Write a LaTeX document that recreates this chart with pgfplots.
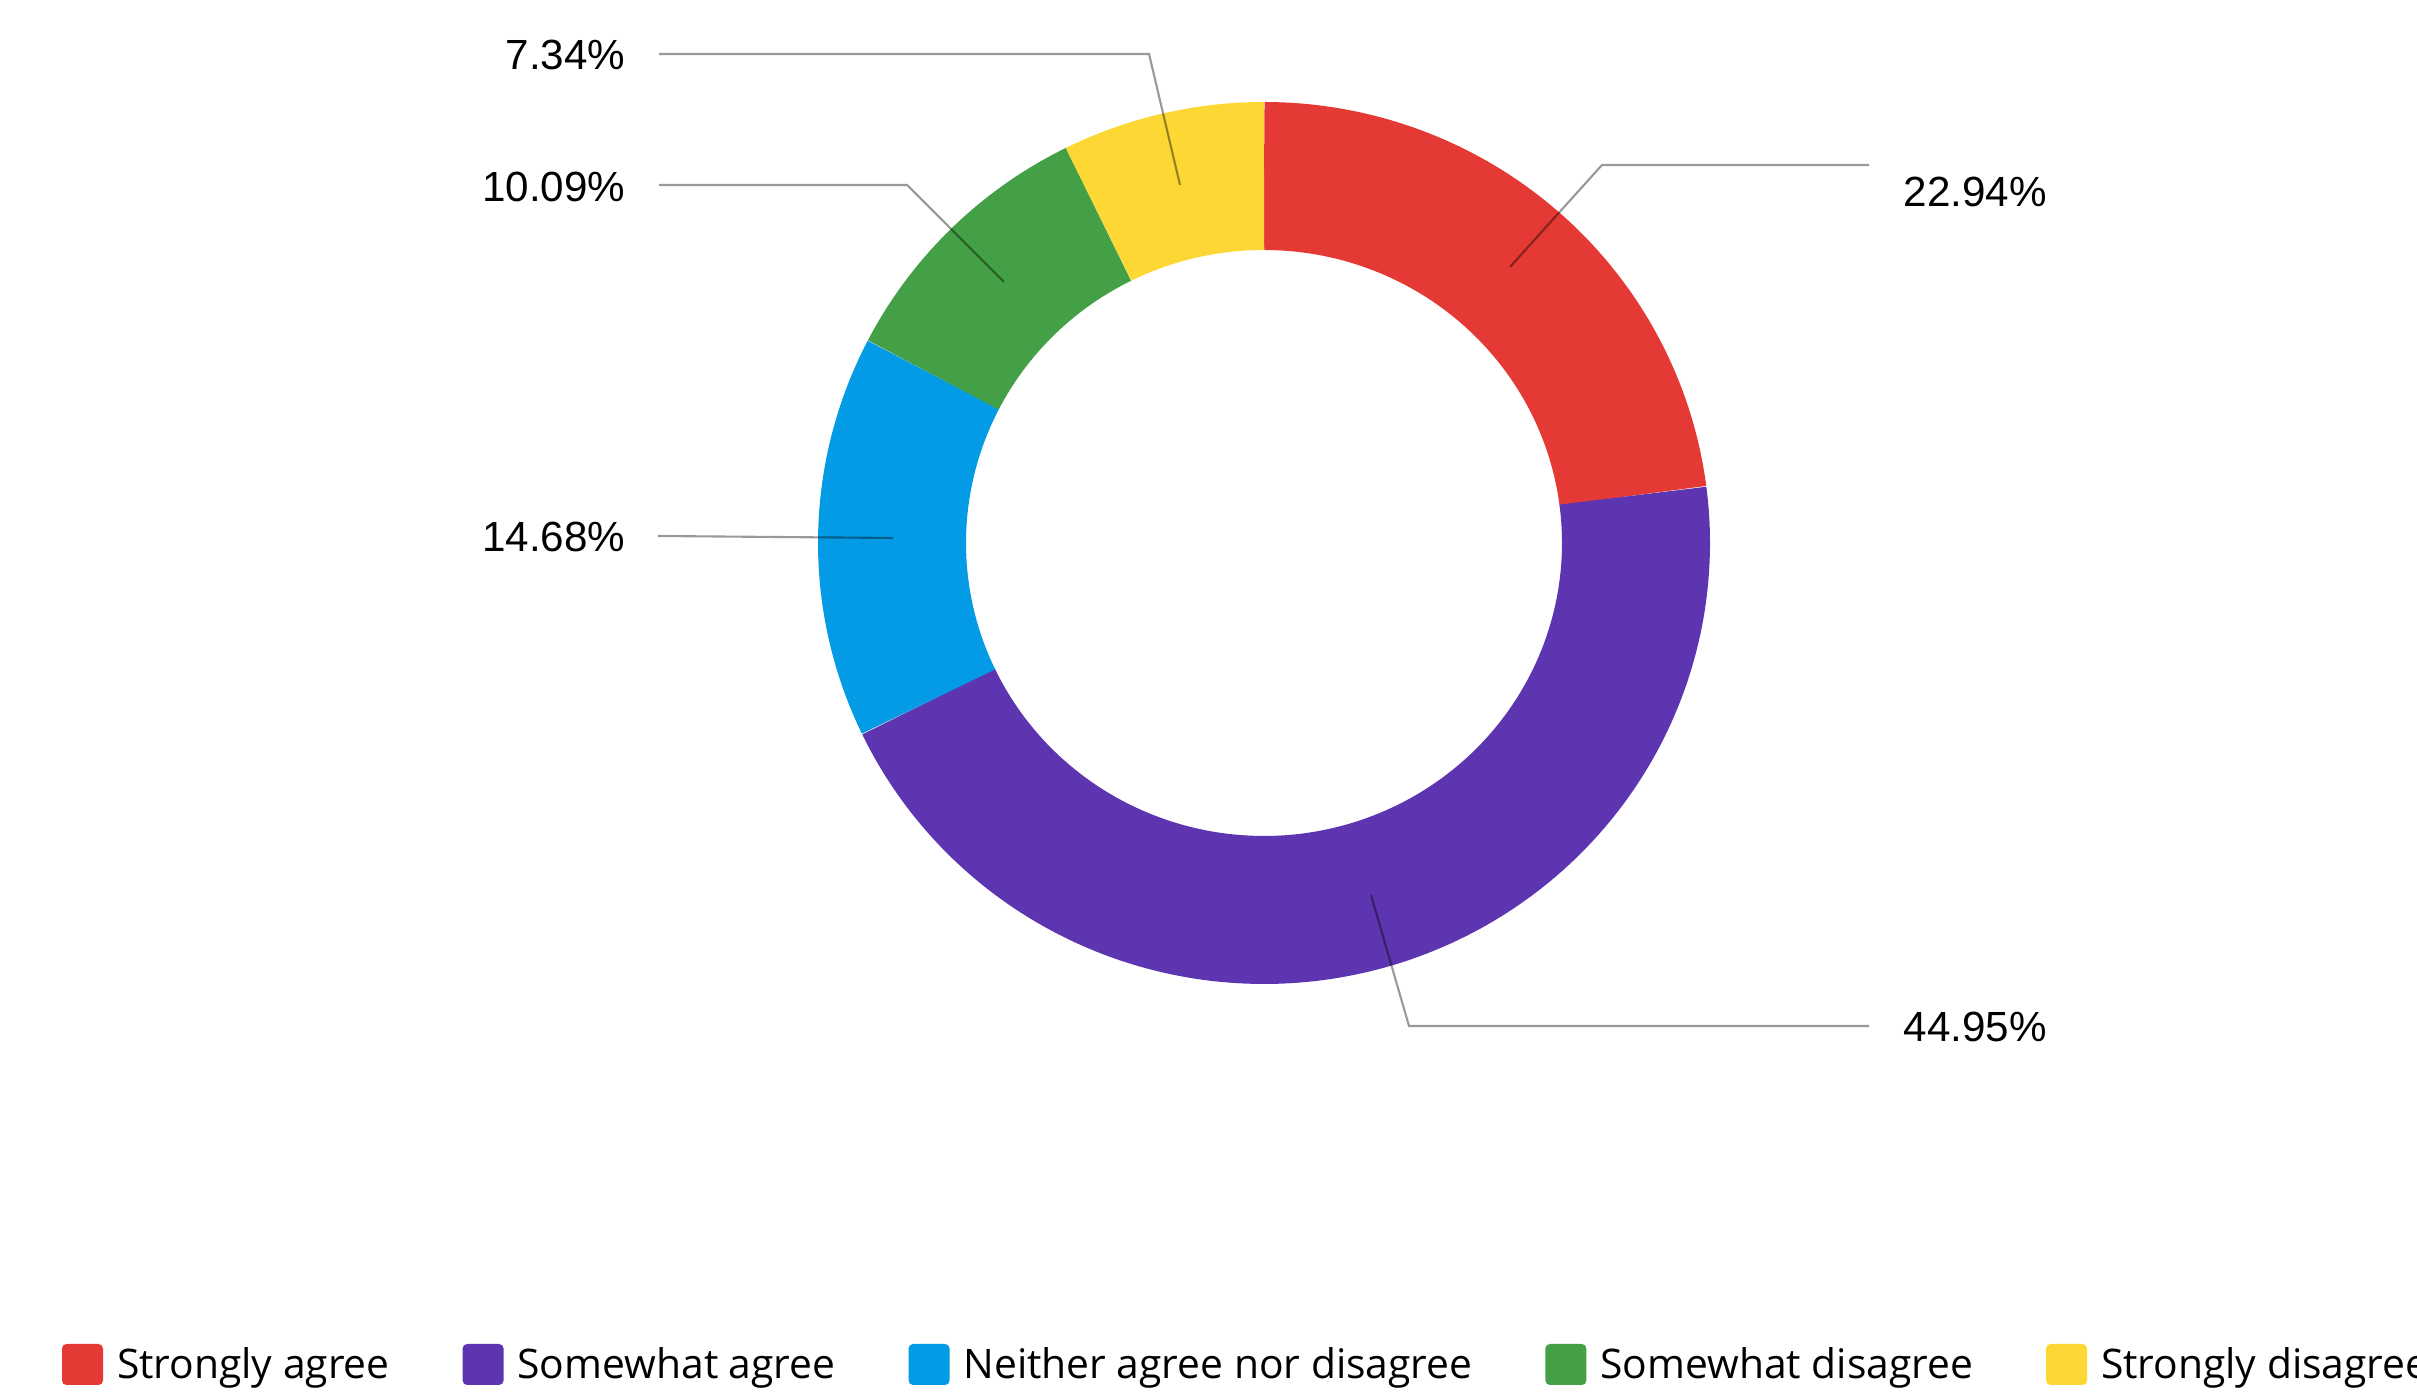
\documentclass[border=0pt]{standalone}
\usepackage{fontspec}
\setmainfont{Liberation Sans}
\newfontfamily\legfont{Open Sans}
\usepackage{pgfplots}
\pgfplotsset{compat=1.18}
\definecolor{cRed}{HTML}{E53935}
\definecolor{cPurple}{HTML}{5E35B1}
\definecolor{cBlue}{HTML}{039BE5}
\definecolor{cGreen}{HTML}{43A047}
\definecolor{cYellow}{HTML}{FDD835}
\tikzset{lbl/.style={inner sep=0pt, font=\fontsize{12}{14}\selectfont}}
% data (percent)
\def\vA{22.94}\def\vB{44.95}\def\vC{14.68}\def\vD{10.09}\def\vE{7.34}
\pgfmathsetmacro{\aA}{90}
\pgfmathsetmacro{\aB}{\aA-3.6*\vA}
\pgfmathsetmacro{\aC}{\aB-3.6*\vB}
\pgfmathsetmacro{\aD}{\aC-3.6*\vC}
\pgfmathsetmacro{\aE}{\aD-3.6*\vD}
\pgfmathsetmacro{\aF}{\aE-3.6*\vE}
\begin{document}
\begin{tikzpicture}
\begin{axis}[at={(0,0)}, anchor=south west, scale only axis,
  width=241.7mm, height=139.2mm,
  xmin=0, xmax=2417, ymin=-1392, ymax=0,
  hide axis, clip=false,
  legend columns=5,
  legend style={at={(axis cs:62,-1364.5)}, anchor=west, draw=none, fill=none,
    inner sep=0pt, outer sep=0pt, nodes={inner sep=0pt, outer sep=0pt},
    font=\legfont\fontsize{11.6}{14}\selectfont,
    /tikz/every odd column/.append style={column sep=1.4mm},
    /tikz/every even column/.append style={column sep=7.3mm}},
  legend image code/.code={\fill[#1, draw=none, line width=0pt, rounded corners=0.45mm] (0mm,-1.95mm) rectangle (4.1mm,2.15mm);},
  ring/.style={line cap=butt, line join=round, line width=14.8mm, samples=150, no marks},
  leader/.style={black, opacity=0.4, line width=0.6pt, no marks, forget plot},
]
\addplot[ring, cRed, domain=\aB:\aA] ({1264+372*cos(x)},{-543+367*sin(x)});
\addlegendentry{Strongly agree}
\addplot[ring, cPurple, domain=\aC:\aB] ({1264+372*cos(x)},{-543+367*sin(x)});
\addlegendentry{Somewhat agree}
\addplot[ring, cBlue, domain=\aD:\aC] ({1264+372*cos(x)},{-543+367*sin(x)});
\addlegendentry{Neither agree nor disagree}
\addplot[ring, cGreen, domain=\aE:\aD] ({1264+372*cos(x)},{-543+367*sin(x)});
\addlegendentry{Somewhat disagree}
\addplot[ring, cYellow, domain=\aF:\aE] ({1264+372*cos(x)},{-543+367*sin(x)});
\addlegendentry{Strongly disagree}

\addplot[leader] coordinates {(659,-54) (1149,-54) (1180,-185)};
\addplot[leader] coordinates {(659,-185) (907,-185) (1004,-282)};
\addplot[leader] coordinates {(658,-536) (893,-538)};
\addplot[leader] coordinates {(1869,-165) (1602,-165) (1510,-267)};
\addplot[leader] coordinates {(1869,-1026) (1409,-1026) (1371,-895)};

\node[lbl, anchor=base east] at (axis cs:626,-70) {7.34\%};
\node[lbl, anchor=base east] at (axis cs:626,-202) {10.09\%};
\node[lbl, anchor=base east] at (axis cs:626,-552) {14.68\%};
\node[lbl, anchor=base west] at (axis cs:1903,-207) {22.94\%};
\node[lbl, anchor=base west] at (axis cs:1903,-1042) {44.95\%};
\end{axis}
\pgfresetboundingbox
\path[use as bounding box] (0,0) rectangle (241.7mm,139.2mm);
\end{tikzpicture}
\end{document}
